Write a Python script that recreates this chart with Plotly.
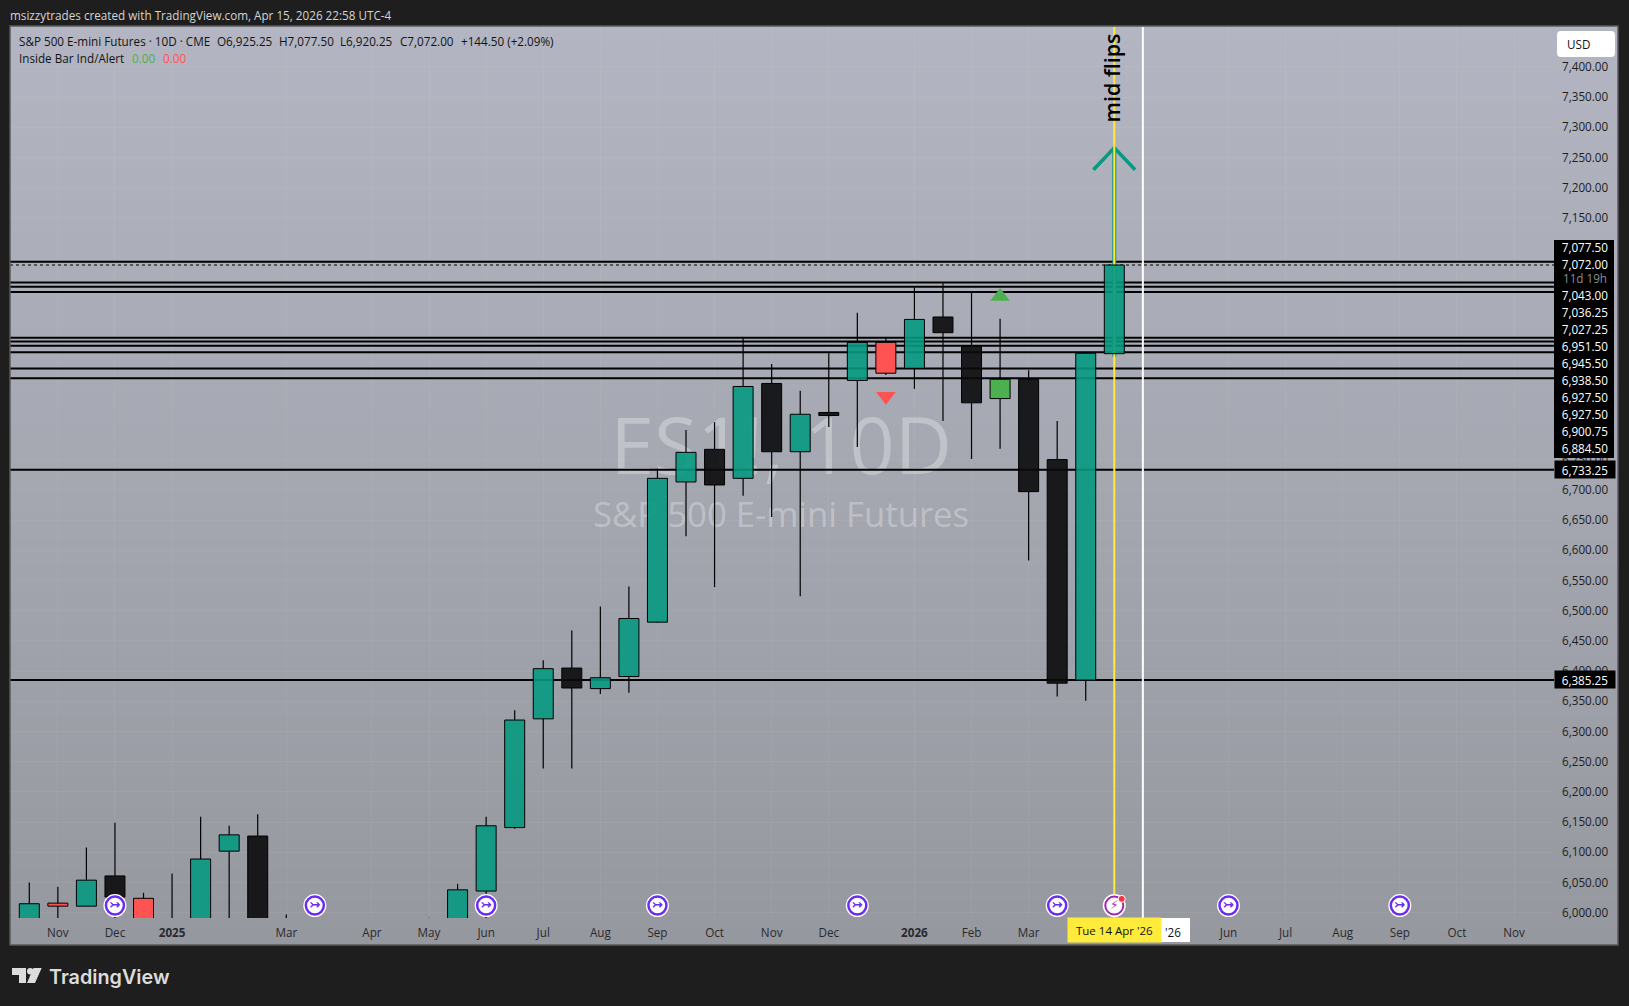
import plotly.graph_objects as go

W, H = 1629, 1006

# candle data, one bar per 10 days. Bars 10-13 sit below the visible range
OPENS = [5975, 6016, 6011, 6061, 6024, 5950, 5960, 6102, 6127, 5920, 5880, 5820, 5760, 5800, 5900, 5940, 6036, 6141, 6321, 6405, 6371, 6391, 6481, 6713, 6767, 6719, 6876, 6763, 6828, 6881, 6944, 6901, 6986, 6938, 6851, 6883, 6750, 6385, 6925.25]
HIGHS = [6050, 6043, 6108, 6149, 6033, 6065, 6159, 6144, 6163, 5997, 5960, 5900, 5860, 5900, 5992, 6048, 6159, 6335, 6418, 6467, 6507, 6540, 6735, 6799, 6812, 6951, 6908, 6864, 6926, 6993, 6951, 7035, 7042, 7027, 6983, 6898, 6814, 6927, 7077.5]
LOWS = [5950, 5960, 6011, 5985, 5940, 5900, 5930, 5970, 5930, 5850, 5800, 5720, 5700, 5760, 5860, 5920, 5991, 6139, 6239, 6239, 6362, 6364, 6480, 6623, 6539, 6690, 6655, 6524, 6804, 6771, 6890, 6867, 6814, 6751, 6768, 6583, 6358, 6351, 6920.25]
CLOSES = [6015, 6011, 6054, 6026, 5960, 5985, 6089, 6129, 5950, 5880, 5820, 5760, 5800, 5900, 5940, 6038, 6144, 6319, 6404, 6372, 6389, 6487, 6719, 6762, 6708, 6871, 6763, 6825, 6823, 6944, 6893, 6982, 6960, 6844, 6883, 6697, 6380, 6926, 7072]
KINDS = ["up", "ib_down", "up", "down", "ib_down", "up", "up", "up", "down", "down", "down", "down", "up", "up", "up", "up", "up", "up", "up", "down", "up", "up", "up", "up", "down", "up", "down", "up", "down", "up", "ib_down", "up", "down", "down", "ib_up", "down", "down", "up", "up"]
KIND_COLORS = {"up": "rgba(8,153,129,0.9)", "down": "rgba(10,10,12,0.9)", "ib_down": "#ff5252", "ib_up": "#4caf50"}

LEVELS = [7077.5, 7043, 7036.25, 7027.25, 6951.5, 6945.5, 6938.5, 6927.5, 6900.75, 6884.5, 6733.25, 6385.25]
LAST_PRICE = 7072
LAST_BAR = 38
CURSOR_BAR = 39

ARROW_X = [37.27, 38, 38.73]
ARROW_Y = [7229.6, 7266, 7229.6]
LEG_Y = [6920.25, 7266]

ICON_PRICE = 6012
SPLIT_BARS = [3, 10, 16, 22, 29, 36, 42, 48]
TRI_UP = (34, 7020)
TRI_DOWN = (30, 6855)

# the tags on the price scale cover the ticks between 7,100 and 6,800
PRICE_TICKS = [6000, 6050, 6100, 6150, 6200, 6250, 6300, 6350, 6400, 6450, 6500, 6550, 6600, 6650, 6700, 6750, 7150, 7200, 7250, 7300, 7350, 7400]
MONTH_POS = [1, 3, 5, 9, 12, 14, 16, 18, 20, 22, 24, 26, 28, 31, 33, 35, 42, 44, 46, 48, 50, 52]
MONTH_TXT = ["Nov", "Dec", "<b>2025</b>", "Mar", "Apr", "May", "Jun", "Jul", "Aug", "Sep", "Oct", "Nov", "Dec", "<b>2026</b>", "Feb", "Mar", "Jun", "Jul", "Aug", "Sep", "Oct", "Nov"]

STACK_LABELS = ["7,043.00", "7,036.25", "7,027.25", "6,951.50", "6,945.50", "6,938.50", "6,927.50", "6,927.50", "6,900.75", "6,884.50"]

X_RANGE = [-0.676, 53.4]
Y_RANGE = [5991.4, 7465.9]

FONT = "Open Sans"
TEAL = "#089981"
YELLOW = "#ffeb3b"
PURPLE = "#6a2cf0"
MAGENTA = "#9c27b0"


def fx(x):
    return x / W


def fy(y):
    return 1 - y / H


fig = go.Figure()

# panel gradient lives in its own subplot so it also runs behind both axes
fig.add_trace(go.Heatmap(
    x=[0, 1], y=[0, 1], z=[[0, 0], [1, 1]],
    colorscale=[[0, "#96989f"], [1, "#b3b6c2"]],
    zsmooth="best", showscale=False, hoverinfo="skip", xaxis="x", yaxis="y",
))

# everything that sits behind the candles
fig.add_trace(go.Scatter(
    x=[26.33, 26.33], y=[6759, 6653],
    text=["ES1!, 10D", "S&P 500 E-mini Futures"],
    mode="text", textposition="middle center",
    textfont=dict(family=FONT, size=[79, 34.7], color="rgba(255,255,255,0.3)"),
    hoverinfo="skip", xaxis="x2", yaxis="y2",
))
for level in LEVELS:
    fig.add_trace(go.Scatter(
        x=X_RANGE, y=[level, level], mode="lines",
        line=dict(color="black", width=2),
        hoverinfo="skip", xaxis="x2", yaxis="y2",
    ))
fig.add_trace(go.Scatter(
    x=X_RANGE, y=[LAST_PRICE, LAST_PRICE], mode="lines",
    line=dict(color="black", width=1, dash="dot"),
    hoverinfo="skip", xaxis="x2", yaxis="y2",
))
fig.add_trace(go.Scatter(
    x=[LAST_BAR, LAST_BAR], y=LEG_Y, mode="lines",
    line=dict(color=TEAL, width=4),
    hoverinfo="skip", xaxis="x2", yaxis="y2",
))
fig.add_trace(go.Scatter(
    x=ARROW_X, y=ARROW_Y, mode="lines",
    line=dict(color=TEAL, width=3.5),
    hoverinfo="skip", xaxis="x2", yaxis="y2",
))
fig.add_trace(go.Scatter(
    x=[LAST_BAR, LAST_BAR], y=Y_RANGE, mode="lines",
    line=dict(color=YELLOW, width=2),
    hoverinfo="skip", xaxis="x2", yaxis="y2",
))
fig.add_trace(go.Scatter(
    x=[CURSOR_BAR, CURSOR_BAR], y=Y_RANGE, mode="lines",
    line=dict(color="white", width=2),
    hoverinfo="skip", xaxis="x2", yaxis="y2",
))

# candles on an overlaid subplot so the levels show through the bodies
bars = list(range(len(OPENS)))
tops = [max(o, c) for o, c in zip(OPENS, CLOSES)]
bottoms = [min(o, c) for o, c in zip(OPENS, CLOSES)]
fig.add_trace(go.Bar(
    x=bars, base=bottoms, y=[t - b for t, b in zip(tops, bottoms)],
    width=0.7,
    marker=dict(color=[KIND_COLORS[k] for k in KINDS], line=dict(color="black", width=1)),
    hoverinfo="skip", xaxis="x3", yaxis="y3",
))
wick_x, wick_y = [], []
for i in bars:
    if i == LAST_BAR:
        continue
    wick_x += [i, i, None, i, i, None]
    wick_y += [HIGHS[i], tops[i], None, bottoms[i], LOWS[i], None]
fig.add_trace(go.Scatter(
    x=wick_x, y=wick_y, mode="lines", line=dict(color="black", width=1.2),
    hoverinfo="skip", xaxis="x3", yaxis="y3",
))

# inside bar markers
fig.add_trace(go.Scatter(
    x=[TRI_UP[0]], y=[TRI_UP[1]], mode="markers",
    marker=dict(symbol="triangle-up", size=17, color="#4caf50"),
    hoverinfo="skip", xaxis="x3", yaxis="y3",
))
fig.add_trace(go.Scatter(
    x=[TRI_DOWN[0]], y=[TRI_DOWN[1]], mode="markers",
    marker=dict(symbol="triangle-down", size=17, color="#ff5252"),
    hoverinfo="skip", xaxis="x3", yaxis="y3",
))

# event icons along the bottom
icon_x = SPLIT_BARS + [LAST_BAR]
fig.add_trace(go.Scatter(
    x=icon_x, y=[ICON_PRICE] * len(icon_x), mode="markers",
    marker=dict(size=23, color="white"),
    hoverinfo="skip", xaxis="x3", yaxis="y3",
))
fig.add_trace(go.Scatter(
    x=SPLIT_BARS, y=[ICON_PRICE] * len(SPLIT_BARS), mode="markers+text",
    marker=dict(size=18, color="white", line=dict(color=PURPLE, width=2.5)),
    text=["<b>\u21a3</b>"] * len(SPLIT_BARS), textposition="middle center",
    textfont=dict(family="DejaVu Sans", size=13, color=PURPLE),
    hoverinfo="skip", xaxis="x3", yaxis="y3",
))
fig.add_trace(go.Scatter(
    x=[LAST_BAR], y=[ICON_PRICE], mode="markers+text",
    marker=dict(size=18, color="white", line=dict(color=MAGENTA, width=2)),
    text=["\u26a1"], textposition="middle center",
    textfont=dict(family="DejaVu Sans", size=12, color=MAGENTA),
    hoverinfo="skip", xaxis="x3", yaxis="y3",
))
fig.add_trace(go.Scatter(
    x=[LAST_BAR + 0.26], y=[ICON_PRICE + 11], mode="markers",
    marker=dict(size=7, color="#f23645", line=dict(color="white", width=1)),
    hoverinfo="skip", xaxis="x3", yaxis="y3",
))

annotations = []


def note(text, x, y, size=11.7, color="#131313", anchor="left", **kw):
    annotations.append(dict(
        text=text, x=fx(x), y=fy(y), xref="paper", yref="paper",
        xanchor=anchor, yanchor="middle", showarrow=False,
        font=dict(family=FONT, size=size, color=color), borderpad=0, **kw,
    ))


note("msizzytrades created with TradingView.com, Apr 15, 2026 22:58 UTC-4", 9, 15, color="#d4d4d4")

note("S&P 500 E-mini Futures · 10D · CME", 18, 41)
note("O6,925.25", 216, 41)
note("H7,077.50", 278, 41)
note("L6,920.25", 339, 41)
note("C7,072.00", 399, 41)
note("+144.50 (+2.09%)", 460, 41)
note("Inside Bar Ind/Alert", 18, 58)
note("0.00", 131, 58, color="#4caf50")
note("0.00", 161.5, 58, color="#ff5252")

# price scale tags, the black stack itself is a shape below
note("USD", 1566, 44)
note("7,077.50", 1554, 246.5, color="white", width=60, height=17)
note("7,072.00", 1554, 263.2, color="white", width=60, height=17)
note("11d 19h", 1554, 278, color="#8c8c8c", width=60, height=14)
for k, label in enumerate(STACK_LABELS):
    note(label, 1554, 294.5 + 17 * k, color="white", width=60, height=17)
note("6,733.25", 1554, 469.5, color="white", bgcolor="black", width=60, height=17)
note("6,385.25", 1554, 679.5, color="white", bgcolor="black", width=60, height=17)

# time scale tags, the yellow one covers most of the white one
note("'26", 1164, 932)
annotations.append(dict(
    text="Tue 14 Apr '26", x=LAST_BAR, y=fy(930), xref="x3", yref="paper",
    xanchor="center", yanchor="middle", showarrow=False, bgcolor=YELLOW, width=93, height=24,
    borderpad=0, font=dict(family=FONT, size=11.5, color="#131313"),
))

annotations.append(dict(
    text="mid flips", x=LAST_BAR, y=7381, xref="x3", yref="y3", textangle=-90,
    showarrow=False, xanchor="center", yanchor="middle", xshift=-3,
    font=dict(family=FONT, size=21.5, color="black", weight=600),
))

note("TradingView", 48, 977, size=19.8, color="#dcdcdc")
annotations[-1]["font"].update(family="Inter", weight=600)


def logo_path(points):
    return "M" + " L".join(f"{fx(x):.5f},{fy(y):.5f}" for x, y in points) + " Z"


def rounded_box(x0, y0, x1, y1, r):
    return (
        f"M{fx(x0 + r):.5f},{fy(y0):.5f} L{fx(x1 - r):.5f},{fy(y0):.5f} Q{fx(x1):.5f},{fy(y0):.5f} {fx(x1):.5f},{fy(y0 + r):.5f} "
        f"L{fx(x1):.5f},{fy(y1 - r):.5f} Q{fx(x1):.5f},{fy(y1):.5f} {fx(x1 - r):.5f},{fy(y1):.5f} "
        f"L{fx(x0 + r):.5f},{fy(y1):.5f} Q{fx(x0):.5f},{fy(y1):.5f} {fx(x0):.5f},{fy(y1 - r):.5f} "
        f"L{fx(x0):.5f},{fy(y0 + r):.5f} Q{fx(x0):.5f},{fy(y0):.5f} {fx(x0 + r):.5f},{fy(y0):.5f} Z"
    )


shapes = [
    dict(type="rect", xref="paper", yref="paper", x0=fx(10), x1=fx(1618), y0=fy(945), y1=fy(26),
         line=dict(color="#5a5a5a", width=1.5)),
    dict(type="rect", xref="paper", yref="paper", x0=fx(1554), x1=fx(1614), y0=fy(458), y1=fy(240),
         line_width=0, fillcolor="black"),
    dict(type="rect", xref="paper", yref="paper", x0=fx(1096), x1=fx(1190), y0=fy(942), y1=fy(918),
         line_width=0, fillcolor="white"),
    dict(type="path", xref="paper", yref="paper", line_width=0, fillcolor="white",
         path=rounded_box(1557, 31, 1615, 57, 4)),
    dict(type="path", xref="paper", yref="paper", line_width=0, fillcolor="#dcdcdc",
         path=logo_path([(12, 968), (26, 968), (26, 983), (19, 983), (19, 975), (12, 975)])),
    dict(type="path", xref="paper", yref="paper", line_width=0, fillcolor="#dcdcdc",
         path=logo_path([(33.5, 968), (41.7, 968), (35, 983), (27, 983)])),
    dict(type="circle", xref="paper", yref="paper", line_width=0, fillcolor="#dcdcdc",
         x0=fx(27), x1=fx(33.4), y0=fy(974.4), y1=fy(968)),
]

grid = "rgba(255,255,255,0.05)"
chart_x = [fx(10), fx(1554)]
chart_y = [fy(918), fy(27)]

fig.update_layout(
    template="none",
    width=W, height=H,
    margin=dict(l=0, r=0, t=0, b=0, pad=0, autoexpand=False),
    paper_bgcolor="#1e1e1e",
    plot_bgcolor="rgba(0,0,0,0)",
    showlegend=False,
    hovermode=False,
    annotations=annotations,
    shapes=shapes,
    xaxis=dict(domain=[fx(10), fx(1618)], range=[0, 1], visible=False, fixedrange=True, automargin=False),
    yaxis=dict(domain=[fy(945), fy(26)], range=[0, 1], visible=False, fixedrange=True, automargin=False),
    xaxis2=dict(
        domain=chart_x, range=X_RANGE, anchor="y2", automargin=False,
        tickmode="array", tickvals=MONTH_POS, ticktext=MONTH_TXT,
        tickfont=dict(family=FONT, size=11.7, color="#2a2a2e"),
        ticks="", ticklabelstandoff=6, showgrid=True, gridcolor=grid, zeroline=False, showline=False,
    ),
    yaxis2=dict(
        domain=chart_y, range=Y_RANGE, anchor="x2", side="right", automargin=False,
        tickmode="array", tickvals=PRICE_TICKS, tickformat=",.2f",
        tickfont=dict(family=FONT, size=11.7, color="#1e1e1e"),
        ticks="", ticklabelstandoff=7, showgrid=True, gridcolor=grid, zeroline=False, showline=False,
    ),
    xaxis3=dict(domain=chart_x, range=X_RANGE, anchor="y3", overlaying="x2", visible=False, automargin=False),
    yaxis3=dict(domain=chart_y, range=Y_RANGE, anchor="x3", overlaying="y2", visible=False, automargin=False),
)

fig.write_html(
    "out.html",
    config={"displayModeBar": False},
    post_script="document.body.style.margin='0';document.body.style.overflow='hidden';document.body.style.background='#1e1e1e';",
)
